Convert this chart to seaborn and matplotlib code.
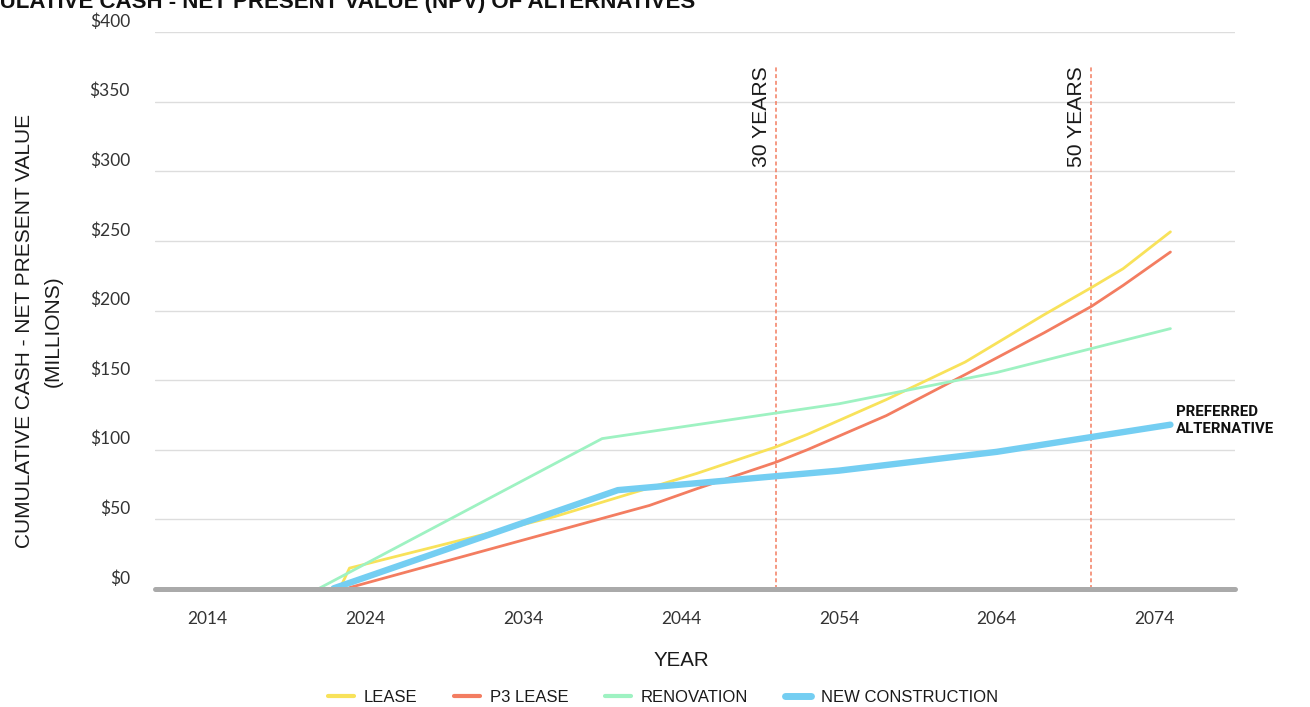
import numpy as np
import pandas as pd
import matplotlib
matplotlib.use("Agg")
import matplotlib.pyplot as plt
import matplotlib.transforms as mtransforms
from matplotlib.lines import Line2D
import seaborn as sns

# Cumulative cash, net present value ($ millions) for each alternative
lease_years = [2022, 2023, 2036, 2045, 2050, 2052, 2057, 2062, 2067, 2070, 2072, 2075]
lease_npv = [-9, 15, 52, 83, 102, 111, 136, 163, 197, 216.5, 230, 256.5]

p3_years = [2023, 2042, 2045, 2050, 2052, 2057, 2062, 2067, 2070, 2072, 2075]
p3_npv = [1, 60, 72, 91, 100, 124.5, 154, 184, 203, 218, 242]

reno_years = [2021, 2039, 2054, 2064, 2075]
reno_npv = [0, 108, 133, 155.5, 187]

new_years = [2022, 2040, 2054, 2064, 2075]
new_npv = [0.5, 71, 85, 98.5, 118]

series_names = ["LEASE", "P3 LEASE", "RENOVATION", "NEW CONSTRUCTION"]
x_ticks = [2014, 2024, 2034, 2044, 2054, 2064, 2074]
y_ticks = [0, 50, 100, 150, 200, 250, 300, 350, 400]
milestone_years = [2050, 2070]
milestone_labels = ["30 YEARS", "50 YEARS"]

frames = []
for name, yrs, vals in zip(series_names,
                           [lease_years, p3_years, reno_years, new_years],
                           [lease_npv, p3_npv, reno_npv, new_npv]):
    frames.append(pd.DataFrame({"year": yrs, "npv": vals, "alternative": name}))
df = pd.concat(frames, ignore_index=True)

palette = {
    "LEASE": "#F8E25A",
    "P3 LEASE": "#F37D61",
    "RENOVATION": "#9EF2C2",
    "NEW CONSTRUCTION": "#74CEF2",
}
widths = {"LEASE": 2.0, "P3 LEASE": 2.0, "RENOVATION": 2.0, "NEW CONSTRUCTION": 4.6}

sns.set_theme(style="white")
SANS = ["Liberation Sans", "DejaVu Sans"]
GEOM = ["Lato", "DejaVu Sans"]
BOLD = ["Roboto", "Liberation Sans", "DejaVu Sans"]
plt.rcParams["font.family"] = SANS

W, H = 1310, 707
fig = plt.figure(figsize=(W / 100, H / 100), dpi=100)
ax = fig.add_axes([155 / W, 1 - 589 / H, 1080 / W, 557 / H])

for i, name in enumerate(series_names):
    sub = df[df["alternative"] == name]
    sns.lineplot(data=sub, x="year", y="npv", color=palette[name],
                 linewidth=widths[name], estimator=None, sort=False,
                 ax=ax, zorder=3 + i, legend=False)

ax.set_xlim(2010.68, 2079.09)
ax.set_ylim(0, 400)

# gridlines and baseline
ax.yaxis.grid(True, color="#dddddd", linewidth=1.0)
ax.xaxis.grid(False)
for s in ax.spines.values():
    s.set_visible(False)
ax.axhline(0, color="#aaaaaa", linewidth=3.6, zorder=10, clip_on=False)

# milestone markers
ax.vlines(milestone_years, 0, 375.6, colors="#F37D61", linewidth=1.1,
          linestyles=(0, (2.6, 1.8)), zorder=2)
for yr, lab in zip(milestone_years, milestone_labels):
    ax.annotate(lab, xy=(yr, 375.6), xytext=(-5, 0), textcoords="offset pixels",
                rotation=90, ha="right", va="top", fontsize=15.2,
                color="#1a1a1a")

# end label for the preferred option
ax.annotate("PREFERRED\nALTERNATIVE", xy=(new_years[-1], new_npv[-1]),
            xytext=(6, 4), textcoords="offset pixels", ha="left", va="center",
            family=BOLD, fontsize=10.8, fontweight="bold", color="#111111",
            linespacing=1.25, annotation_clip=False)

# ticks
ax.set_xticks(x_ticks)
ax.set_xticklabels([str(t) for t in x_ticks], family=GEOM, fontsize=12.5,
                   color="#333333")
ax.set_yticks(y_ticks)
ax.set_yticklabels([f"${t}" for t in y_ticks], family=GEOM, fontsize=12.5,
                   color="#333333")
ax.tick_params(axis="x", length=0, pad=16)
ax.tick_params(axis="y", length=0, pad=18)
lift = mtransforms.ScaledTranslation(0, 12 / 100, fig.dpi_scale_trans)
for lab in ax.get_yticklabels():
    lab.set_transform(lab.get_transform() + lift)

# axis titles
ax.set_xlabel("YEAR", fontsize=14.8, color="#1a1a1a", va="center")
ax.xaxis.set_label_coords((681 - 155) / 1080, (589 - 660) / 557)
ax.set_ylabel("CUMULATIVE CASH - NET PRESENT VALUE\n(MILLIONS)", fontsize=15,
              color="#1a1a1a", va="center", ha="center", linespacing=1.6)
ax.yaxis.set_label_coords((39 - 155) / 1080, (589 - 331) / 557)

# legend
handles = [Line2D([], [], color=palette[n], linewidth=(5 if n == "NEW CONSTRUCTION" else 3))
           for n in series_names]
fig.legend(handles, series_names, loc="center", bbox_to_anchor=(663 / W, 1 - 697 / H),
           ncol=4, frameon=False, fontsize=12, handlelength=1.55,
           handletextpad=0.6, columnspacing=2.2, labelcolor="#1a1a1a")

# chart title
fig.text(695 / W, 1 - 8 / H, "CUMULATIVE CASH - NET PRESENT VALUE (NPV) OF ALTERNATIVES",
         ha="right", va="baseline", fontsize=16, fontweight="bold", color="#111111")

fig.savefig("out.png", dpi=100, facecolor="white")
